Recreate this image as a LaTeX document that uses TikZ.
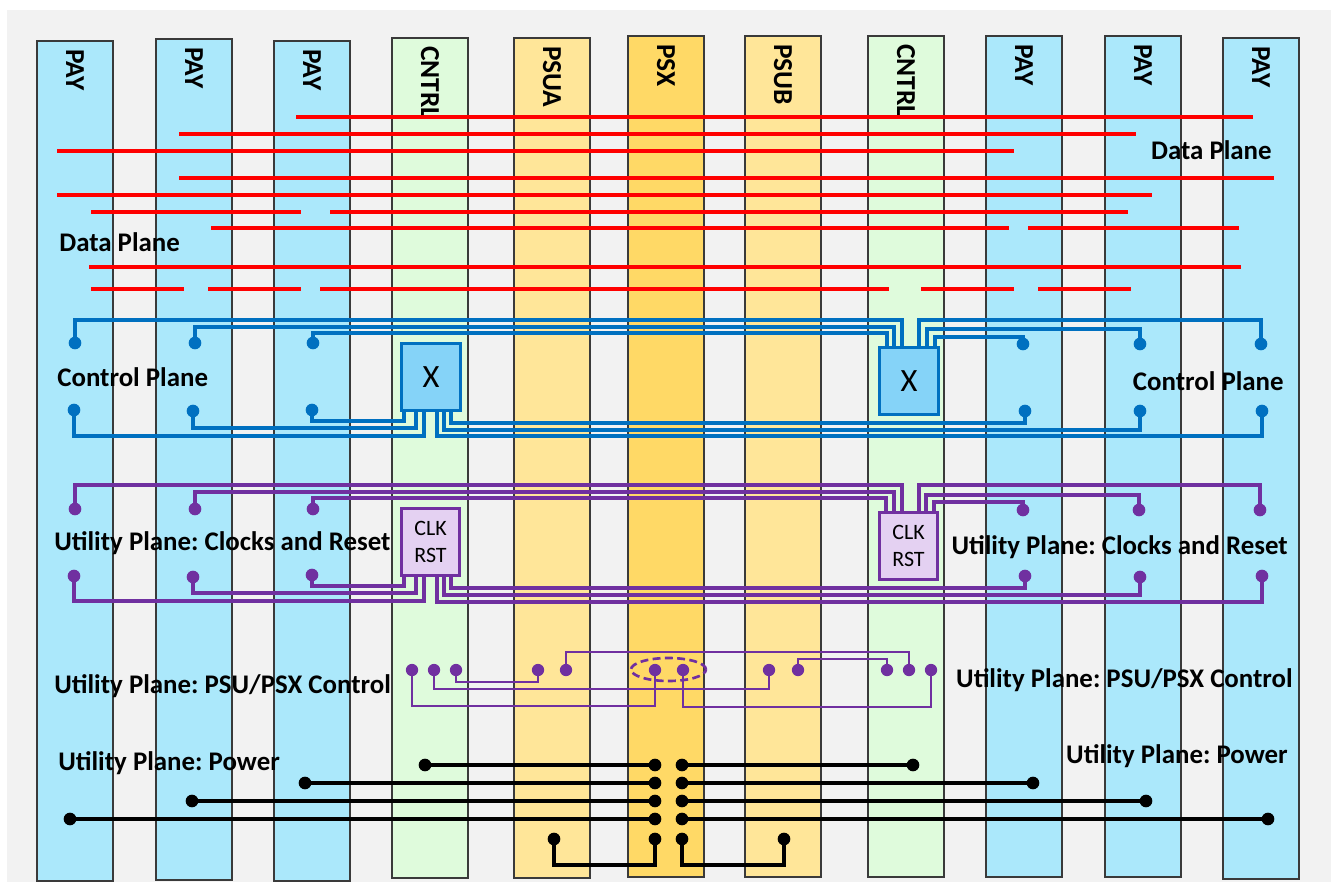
\documentclass[tikz,border=0pt]{standalone}
\usepackage{fontspec}
\setmainfont{Carlito}
\frenchspacing
\definecolor{bggray}{HTML}{F2F2F2}
\definecolor{payfill}{HTML}{ABE8FB}
\definecolor{cntrlfill}{HTML}{DFFBDC}
\definecolor{psufill}{HTML}{FFE699}
\definecolor{psxfill}{HTML}{FFD966}
\definecolor{cardline}{HTML}{3A3A3A}
\definecolor{ctlblue}{HTML}{0070C0}
\definecolor{xfill}{HTML}{85D3F8}
\definecolor{utilpurple}{HTML}{7030A0}
\definecolor{clkfill}{HTML}{E4D1F2}
\tikzset{
  card/.style={draw=cardline, line width=0.8pt},
  cardlabel/.style={rotate=-90, anchor=west, font=\fontsize{15.6}{18}\selectfont\bfseries},
  dataline/.style={draw=red, line width=2.4pt},
  ctlwire/.style={draw=ctlblue, line width=1.8pt},
  clkwire/.style={draw=utilpurple, line width=1.8pt},
  psuwire/.style={draw=utilpurple, line width=1.5pt},
  pwrwire/.style={draw=black, line width=2.2pt},
  planelabel/.style={inner sep=0pt, font=\fontsize{15.3}{18}\selectfont\bfseries},
  xbox/.style={draw=ctlblue, fill=xfill, line width=1.8pt, minimum width=1.18cm, minimum height=1.34cm, font=\fontsize{18.5}{22}\selectfont},
  clkbox/.style={draw=utilpurple, fill=clkfill, line width=1.8pt, minimum width=1.16cm, minimum height=1.34cm, align=center, inner sep=0pt, font=\fontsize{12.5}{15.4}\selectfont}
}
\begin{document}
\begin{tikzpicture}[x=0.02cm, y=-0.02cm]
                %\draw[help lines] (0,0) grid (1331,882);
                \useasboundingbox (0,0) rectangle (1331,882);
                \fill[white] (0,0) rectangle (1331,882);
                \fill[bggray] (7,10) rectangle (1331,882);
                % slots
                \foreach \x/\t/\b/\c/\lab [count=\i] in {37/41/881/payfill/PAY, 156/39/880/payfill/PAY, 274/41/881/payfill/PAY,
                    392/38/878/cntrlfill/CNTRL, 514/38/878/psufill/PSUA, 628/36/877/psxfill/PSX, 745/36/877/psufill/PSUB,
                    868/36/877/cntrlfill/CNTRL, 986/36/877/payfill/PAY, 1105/36/877/payfill/PAY, 1223/38/879/payfill/PAY} {
                    \draw[card, fill=\c] (\x,\t) rectangle ({\x+76},\b);
                    \node[cardlabel] (slot\i) at ({\x+38},{\t+2}) {\lab};
                }
                % data plane
                \foreach \y/\a/\b in {117/296/1253, 134/179/1136, 151/57/1014, 178/179/1274, 195/57/1152,
                    212/91/301, 212/330/1128, 228/211/1009, 228/1028/1239, 267/89/1241,
                    289/91/184, 289/208/301, 289/320/889, 289/921/1014, 289/1038/1131}
                    \draw[dataline] (\a,\y) -- (\b,\y);
                \node[planelabel, anchor=west] (dpL) at (59,242) {Data Plane};
                \node[planelabel, anchor=east] (dpR) at (1272,150) {Data Plane};
                % control plane
                \node[xbox] (xL) at (431,377) {X};
                \node[xbox] (xR) at (909,381) {X};
                \foreach \n/\x/\y in {cL1t/75/343, cL2t/195/343, cL3t/313/343, cR1t/1023/344, cR2t/1140/344, cR3t/1261/344,
                    cL1b/74/410, cL2b/193/411, cL3b/312/410, cR1b/1025/411, cR2b/1140/411, cR3b/1262/411}
                    \coordinate (\n) at (\x,\y);
                \draw[ctlwire] (cL1t) -- (cL1t |- 0,320) -| (xR.north -| 902,0);
                \draw[ctlwire] (cL2t) -- (cL2t |- 0,327) -| (xR.north -| 894,0);
                \draw[ctlwire] (cL3t) -- (cL3t |- 0,333) -| (xR.north -| 887,0);
                \draw[ctlwire] (cR3t) -- (cR3t |- 0,320) -| (xR.north -| 919,0);
                \draw[ctlwire] (cR2t) -- (cR2t |- 0,329) -| (xR.north -| 927,0);
                \draw[ctlwire] (cR1t) -- (cR1t |- 0,337) -| (xR.north -| 935,0);
                \draw[ctlwire] (cL3b) -- (cL3b |- 0,421) -| (xL.south -| 404,0);
                \draw[ctlwire] (cL2b) -- (cL2b |- 0,428) -| (xL.south -| 416,0);
                \draw[ctlwire] (cL1b) -- (cL1b |- 0,436) -| (xL.south -| 424,0);
                \draw[ctlwire] (cR1b) -- (cR1b |- 0,423) -| (xL.south -| 451,0);
                \draw[ctlwire] (cR2b) -- (cR2b |- 0,430) -| (xL.south -| 444,0);
                \draw[ctlwire] (cR3b) -- (cR3b |- 0,436) -| (xL.south -| 437,0);
                \foreach \n in {cL1t, cL2t, cL3t, cR1t, cR2t, cR3t, cL1b, cL2b, cL3b, cR1b, cR2b, cR3b}
                    \fill[ctlblue] (\n) circle[radius=3.6pt];
                \node[planelabel, anchor=west] (cpL) at (57,377) {Control Plane};
                \node[planelabel, anchor=east] (cpR) at (1284,381) {Control Plane};
                % utility plane: clocks and reset
                \node[clkbox] (kL) at (430.5,542) {CLK\\RST};
                \node[clkbox] (kR) at (908.5,546) {CLK\\RST};
                \foreach \n/\x/\y in {uL1t/75/509, uL2t/195/509, uL3t/313/509, uR1t/1023/510, uR2t/1139/510, uR3t/1260/510,
                    uL1b/74/576, uL2b/193/577, uL3b/312/575, uR1b/1025/576, uR2b/1140/577, uR3b/1262/576}
                    \coordinate (\n) at (\x,\y);
                \draw[clkwire] (uL1t) -- (uL1t |- 0,485) -| (kR.north -| 902,0);
                \draw[clkwire] (uL2t) -- (uL2t |- 0,492) -| (kR.north -| 894,0);
                \draw[clkwire] (uL3t) -- (uL3t |- 0,498) -| (kR.north -| 886,0);
                \draw[clkwire] (uR3t) -- (uR3t |- 0,485) -| (kR.north -| 919,0);
                \draw[clkwire] (uR2t) -- (uR2t |- 0,495) -| (kR.north -| 926,0);
                \draw[clkwire] (uR1t) -- (uR1t |- 0,502) -| (kR.north -| 934,0);
                \draw[clkwire] (uL3b) -- (uL3b |- 0,586) -| (kL.south -| 404,0);
                \draw[clkwire] (uL2b) -- (uL2b |- 0,593) -| (kL.south -| 416,0);
                \draw[clkwire] (uL1b) -- (uL1b |- 0,601) -| (kL.south -| 424,0);
                \draw[clkwire] (uR1b) -- (uR1b |- 0,588) -| (kL.south -| 451,0);
                \draw[clkwire] (uR2b) -- (uR2b |- 0,595) -| (kL.south -| 444,0);
                \draw[clkwire] (uR3b) -- (uR3b |- 0,602) -| (kL.south -| 437,0);
                \foreach \n in {uL1t, uL2t, uL3t, uR1t, uR2t, uR3t, uL1b, uL2b, uL3b, uR1b, uR2b, uR3b}
                    \fill[utilpurple] (\n) circle[radius=3.6pt];
                \node[planelabel, anchor=west] (crL) at (54,543) {Utility Plane: Clocks and Reset};
                \node[planelabel, anchor=east] (crR) at (1288,547) {Utility Plane: Clocks and Reset};
                % utility plane: psu/psx control
                \foreach \x [count=\i] in {412, 434, 456, 538, 566, 655, 683, 769, 798, 887, 909, 931}
                    \coordinate (s\i) at (\x,670);
                \draw[psuwire] (s3) -- (s3 |- 0,682) -| (s4);
                \draw[psuwire] (s2) -- (s2 |- 0,689) -| (s8);
                \draw[psuwire] (s1) -- (s1 |- 0,706) -| (s6);
                \draw[psuwire] (s7) -- (s7 |- 0,707) -| (s12);
                \draw[psuwire] (s5) -- (s5 |- 0,652) -| (s11);
                \draw[psuwire] (s9) -- (s9 |- 0,659) -| (s10);
                \foreach \i in {1,...,12}
                    \fill[utilpurple] (s\i) circle[radius=3.5pt];
                \draw[psuwire, dash pattern=on 4.5pt off 2.5pt] (668.5,669.5) coordinate (psxctl) ellipse [x radius=0.75cm, y radius=0.23cm];
                \node[planelabel, anchor=west] (scL) at (54,686) {Utility Plane: PSU/PSX Control};
                \node[planelabel, anchor=east] (scR) at (1293,680) {Utility Plane: PSU/PSX Control};
                % utility plane: power
                \foreach \i/\y/\l/\r in {1/765/425/913, 2/783/305/1033, 3/801/192/1146, 4/819/70/1268} {
                    \coordinate (pL\i) at (655,\y);
                    \coordinate (pR\i) at (682,\y);
                    \coordinate (pLe\i) at (\l,\y);
                    \coordinate (pRe\i) at (\r,\y);
                    \draw[pwrwire] (pLe\i) -- (pL\i);
                    \draw[pwrwire] (pR\i) -- (pRe\i);
                }
                \coordinate (pL5) at (655,839);
                \coordinate (pR5) at (682,839);
                \coordinate (pLe5) at (554,839);
                \coordinate (pRe5) at (784,839);
                \draw[pwrwire] (pLe5) -- (pLe5 |- 0,865) -| (pL5);
                \draw[pwrwire] (pR5) -- (pR5 |- 0,865) -| (pRe5);
                \foreach \i in {1,...,5}
                    \fill (pL\i) circle[radius=3.6pt] (pR\i) circle[radius=3.6pt] (pLe\i) circle[radius=3.6pt] (pRe\i) circle[radius=3.6pt];
                \node[planelabel, anchor=west] (pwL) at (58,763) {Utility Plane: Power};
                \node[planelabel, anchor=east] (pwR) at (1288,756) {Utility Plane: Power};
\end{tikzpicture}
\end{document}
